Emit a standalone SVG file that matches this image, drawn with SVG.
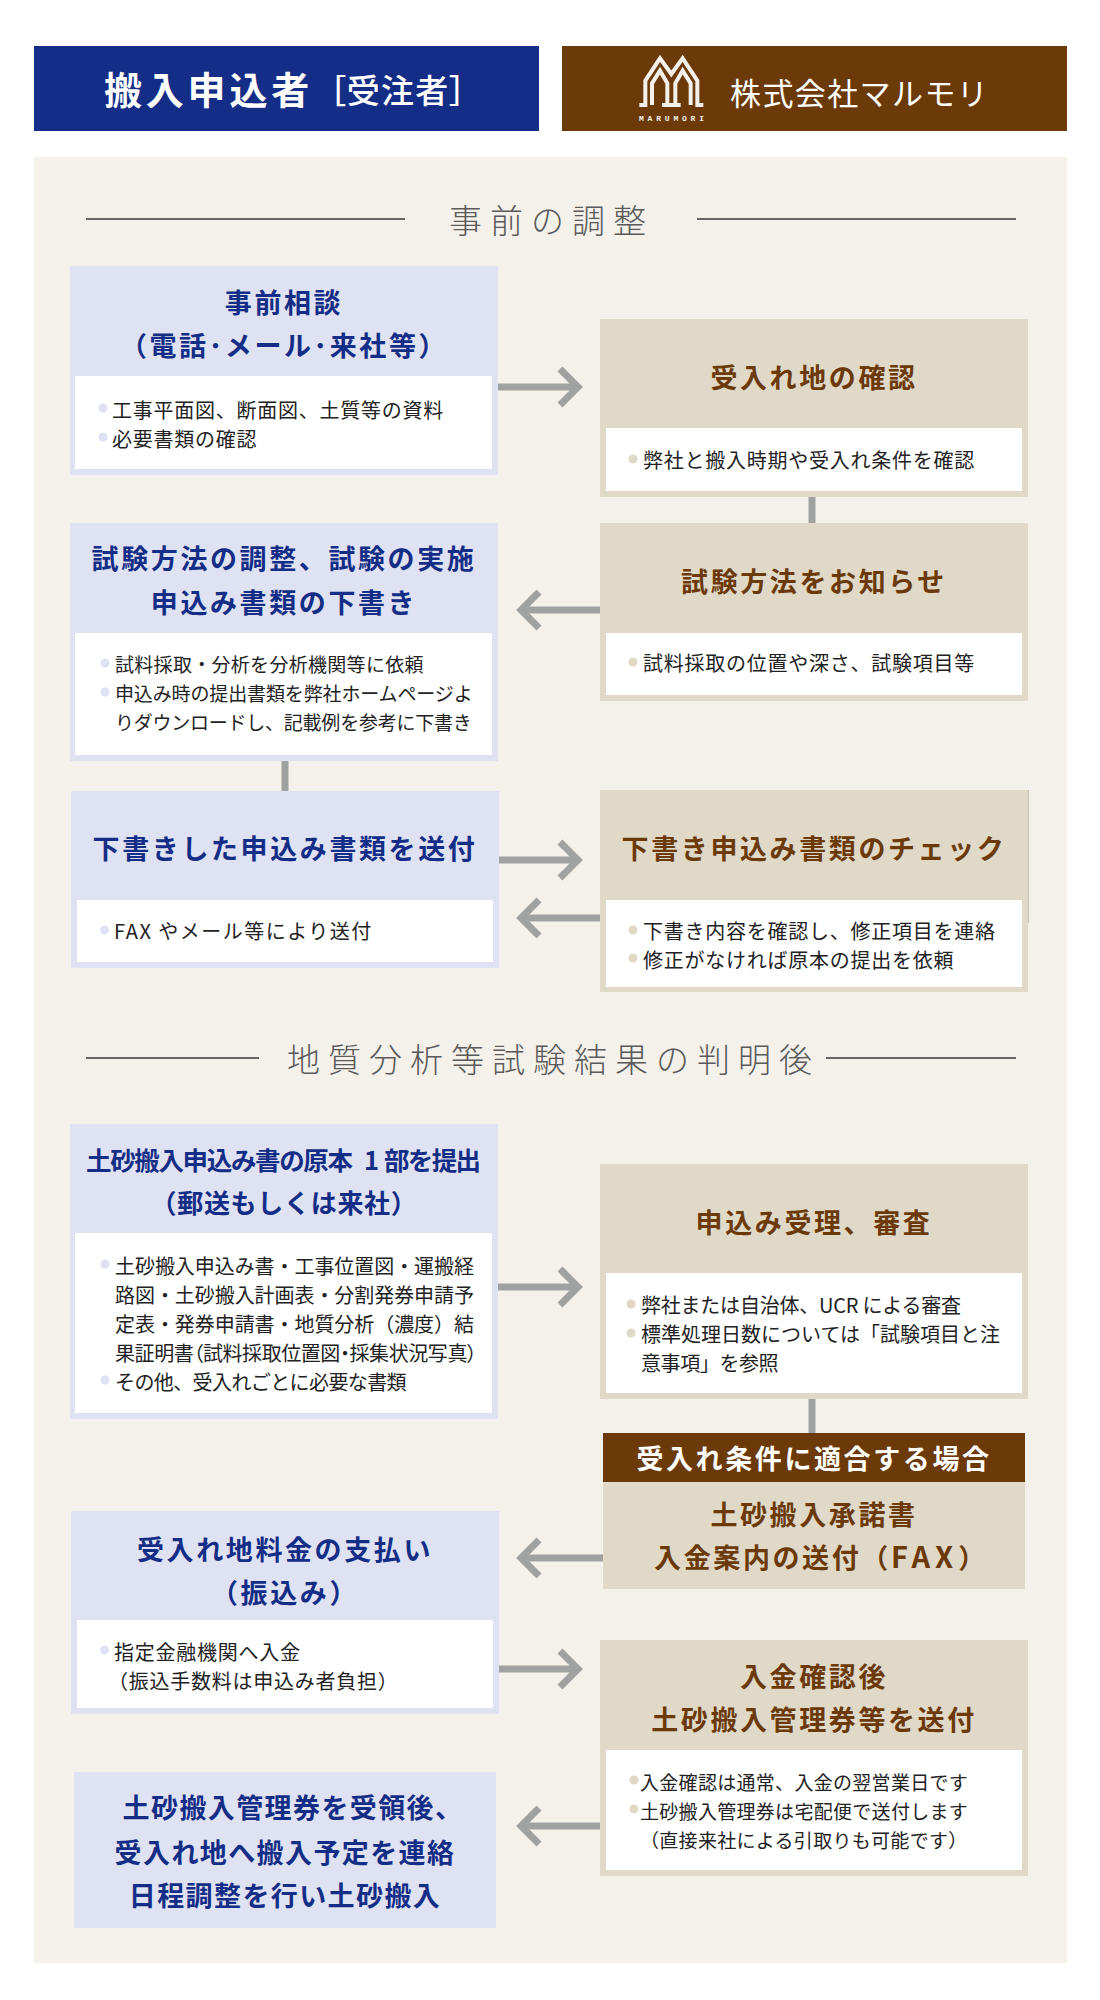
<svg xmlns="http://www.w3.org/2000/svg" width="1100" height="2000" viewBox="0 0 1100 2000">
<style>
text{font-family:"Noto Sans CJK JP","Noto Sans",sans-serif}
.b{fill:#dfe2f2}.t{fill:#e0d9c8}.w{fill:#fff}
.hb{fill:#142d87}.hc{fill:#6b3a08}
.tb,.tc{font-size:27px;font-weight:700;letter-spacing:2.6px;text-anchor:middle}
.tb{fill:#142d87}.tc{fill:#6b3a08}
.t7{font-size:25.500px;font-weight:700;fill:#142d87}
.x{font-size:20px;letter-spacing:.75px;fill:#222}
.x9{font-size:19px;letter-spacing:.3px;fill:#222}
.y{font-size:20px;fill:#222}
.palt{font-feature-settings:"palt"}
.sec{font-size:33px;font-weight:300;fill:#5a5a5a;letter-spacing:8px}
.rule{stroke:#666;stroke-width:2}
.db{fill:#dfe2f2}.dt{fill:#e0d9c8}
.c{fill:none;stroke:#a0a2a2;stroke-width:7}
.ah{marker-end:url(#head)}
.tight{letter-spacing:1.4px}
</style>
<defs>
<marker id="head" markerUnits="userSpaceOnUse" markerWidth="32" markerHeight="50" refX="24" refY="25" orient="auto" overflow="visible">
<path d="M6,7 L24,25 L6,43" fill="none" stroke="#a0a2a2" stroke-width="7"/>
</marker>
</defs>
<rect x="34" y="157" width="1033" height="1806" fill="#f4f1eb"/>
<g id="header-applicant">
<rect class="hb" x="34" y="46" width="505" height="85"/>
<text x="104" y="104" font-size="38" font-weight="700" letter-spacing="3.8" fill="#fff">搬入申込者</text>
<text class="palt" x="329" y="103" font-size="33" font-weight="500" fill="#fff" textLength="137">［受注者］</text>
</g>
<g id="header-company">
<rect class="hc" x="562" y="46" width="505" height="85"/>
<g id="logo" transform="translate(630,50) scale(.3333)" fill="none" stroke="#f4f1eb" stroke-width="12">
<path d="M28,165 H46 V92 L90,25 L124,72 L158,25 L202,92 V165 H220"/>
<path d="M66,165 V100 L90,62 L112,100 V165"/>
<path d="M136,165 V100 L158,62 L182,100 V165"/>
<path d="M96,165 H152"/>
</g>
<text x="639" y="121" font-size="8" font-weight="700" fill="#f4f1eb" textLength="65" style="font-family:'Liberation Mono',monospace">MARUMORI</text>
<text x="730" y="105" font-size="31" letter-spacing="1.4" fill="#fff">株式会社マルモリ</text>
</g>
<g id="section-1">
<path class="rule" d="M86,219 H405 M697,219 H1016"/>
<text class="sec" x="449" y="233">事前の調整</text>
</g>
<g id="section-2">
<path class="rule" d="M86,1058 H259 M826,1058 H1016"/>
<text class="sec" x="287" y="1072">地質分析等試験結果の判明後</text>
</g>
<g id="connectors">
<path class="c" d="M812,497 V525"/>
<path class="c" d="M285,761 V791"/>
<path class="c" d="M812,1399 V1482"/>
<path class="c ah" d="M498,387 H578"/>
<path class="c ah" d="M600,610 H521"/>
<path class="c ah" d="M499,860 H578"/>
<path class="c ah" d="M600,918 H521"/>
<path class="c ah" d="M498,1287 H578"/>
<path class="c ah" d="M603,1558 H521"/>
<path class="c ah" d="M499,1669 H578"/>
<path class="c ah" d="M600,1826 H521"/>
</g>
<g id="node-1">
<rect class="b" x="70" y="266" width="428" height="209"/><rect class="w" x="75" y="376" width="417" height="93"/>
<text class="tb" x="284" y="313">事前相談</text>
<text class="tb" x="284" y="356">（電話･メール･来社等）</text>
<circle class="db" cx="103" cy="408" r="4.5"/><circle class="db" cx="103" cy="437" r="4.5"/>
<text class="x" x="112" y="418">工事平面図、断面図、土質等の資料</text>
<text class="x" x="112" y="447">必要書類の確認</text>
</g>
<g id="node-2">
<rect class="t" x="600" y="319" width="428" height="178"/><rect class="w" x="606" y="428" width="416" height="63"/>
<text class="tc" x="814" y="388">受入れ地の確認</text>
<circle class="dt" cx="633" cy="459" r="4.5"/>
<text class="x" x="643" y="468">弊社と搬入時期や受入れ条件を確認</text>
</g>
<g id="node-3">
<rect class="b" x="70" y="523" width="428" height="238"/><rect class="w" x="75" y="633" width="417" height="122"/>
<text class="tb" x="284" y="569">試験方法の調整、試験の実施</text>
<text class="tb" x="284" y="613">申込み書類の下書き</text>
<circle class="db" cx="105" cy="663" r="4.5"/><circle class="db" cx="105" cy="692" r="4.5"/>
<text class="x9" x="115" y="672">試料採取・分析を分析機関等に依頼</text>
<text class="x9" x="115" y="701" textLength="358">申込み時の提出書類を弊社ホームページよ</text>
<text class="x9" x="115" y="730" textLength="357">りダウンロードし、記載例を参考に下書き</text>
</g>
<g id="node-4">
<rect class="t" x="600" y="523" width="428" height="178"/><rect class="w" x="606" y="633" width="416" height="62"/>
<text class="tc" x="814" y="592">試験方法をお知らせ</text>
<circle class="dt" cx="633" cy="662" r="4.5"/>
<text class="x" x="643" y="671">試料採取の位置や深さ、試験項目等</text>
</g>
<g id="node-5">
<rect class="b" x="71" y="791" width="428" height="177"/><rect class="w" x="77" y="900" width="416" height="62"/>
<text class="tb" x="285" y="859">下書きした申込み書類を送付</text>
<circle class="db" cx="104.500" cy="930" r="4.5"/>
<text class="x" x="114" y="939" textLength="258">FAX やメール等により送付</text>
</g>
<g id="node-6">
<rect class="t" x="600" y="790" width="428" height="202"/><rect class="w" x="606" y="900" width="416" height="87"/>
<path d="M1028.500,790 V923" stroke="#c9c3b2" stroke-width="1"/>
<text class="tc" x="814" y="859">下書き申込み書類のチェック</text>
<circle class="dt" cx="633" cy="930" r="4.5"/><circle class="dt" cx="633" cy="958" r="4.5"/>
<text class="x" x="643" y="939">下書き内容を確認し、修正項目を連絡</text>
<text class="x" x="643" y="968">修正がなければ原本の提出を依頼</text>
</g>
<g id="node-7">
<rect class="b" x="70" y="1124" width="428" height="295"/><rect class="w" x="75" y="1233" width="417" height="180"/>
<text class="t7" x="86" y="1170" textLength="267">土砂搬入申込み書の原本</text>
<text class="t7" x="364" y="1170">1</text>
<text class="t7" x="384" y="1170" textLength="97">部を提出</text>
<text x="284" y="1213" font-size="26" font-weight="700" fill="#142d87" letter-spacing=".7" text-anchor="middle">（郵送もしくは来社）</text>
<circle class="db" cx="105" cy="1264" r="4.5"/><circle class="db" cx="105" cy="1380" r="4.5"/>
<text class="y" x="115" y="1274" textLength="359">土砂搬入申込み書・工事位置図・運搬経</text>
<text class="y" x="115" y="1303" textLength="359">路図・土砂搬入計画表・分割発券申請予</text>
<text class="y" x="115" y="1332" textLength="359">定表・発券申請書・地質分析（濃度）結</text>
<text class="y palt" x="115" y="1361" textLength="362">果証明書（試料採取位置図・採集状況写真）</text>
<text class="y" x="115" y="1390" letter-spacing="-.6">その他、受入れごとに必要な書類</text>
</g>
<g id="node-8">
<rect class="t" x="600" y="1164" width="428" height="235"/><rect class="w" x="606" y="1273" width="416" height="120"/>
<text class="tc" x="814" y="1233">申込み受理、審査</text>
<circle class="dt" cx="631" cy="1304" r="4.5"/><circle class="dt" cx="631" cy="1333" r="4.5"/>
<text class="y" x="641" y="1313" textLength="320">弊社または自治体、UCR による審査</text>
<text class="y" x="641" y="1342" textLength="359">標準処理日数については「試験項目と注</text>
<text class="y" x="641" y="1371" letter-spacing="-.4">意事項」を参照</text>
</g>
<g id="node-9">
<rect class="t" x="603" y="1482" width="422" height="107"/>
<rect class="hc" x="603" y="1433" width="422" height="49"/>
<text class="tb" x="814" y="1469" style="fill:#fff">受入れ条件に適合する場合</text>
<text class="tc" x="814" y="1525">土砂搬入承諾書</text>
<text class="tc" x="821" y="1568">入金案内の送付（<tspan font-size="29" letter-spacing="5">FAX</tspan>）</text>
</g>
<g id="node-10">
<rect class="b" x="71" y="1511" width="428" height="203"/><rect class="w" x="77" y="1620" width="416" height="88"/>
<text class="tb" x="285" y="1560">受入れ地料金の支払い</text>
<text class="tb" x="285" y="1603">（振込み）</text>
<circle class="db" cx="104.500" cy="1650" r="4.5"/>
<text class="x" x="114" y="1660">指定金融機関へ入金</text>
<text class="x" x="108" y="1689">（振込手数料は申込み者負担）</text>
</g>
<g id="node-11">
<rect class="t" x="600" y="1640" width="428" height="236"/><rect class="w" x="606" y="1750" width="416" height="120"/>
<text class="tc" x="814" y="1687">入金確認後</text>
<text class="tc" x="814" y="1730">土砂搬入管理券等を送付</text>
<circle class="dt" cx="634" cy="1780" r="4.5"/><circle class="dt" cx="634" cy="1809" r="4.5"/>
<text class="x9" x="640" y="1790">入金確認は通常、入金の翌営業日です</text>
<text class="x9" x="640" y="1819">土砂搬入管理券は宅配便で送付します</text>
<text class="x9" x="640" y="1848">（直接来社による引取りも可能です）</text>
</g>
<g id="node-12">
<rect class="b" x="74" y="1772" width="422" height="156"/>
<text class="tb tight" x="293" y="1818">土砂搬入管理券を受領後、</text>
<text class="tb tight" x="285" y="1863">受入れ地へ搬入予定を連絡</text>
<text class="tb tight" x="285" y="1906">日程調整を行い土砂搬入</text>
</g>
</svg>
